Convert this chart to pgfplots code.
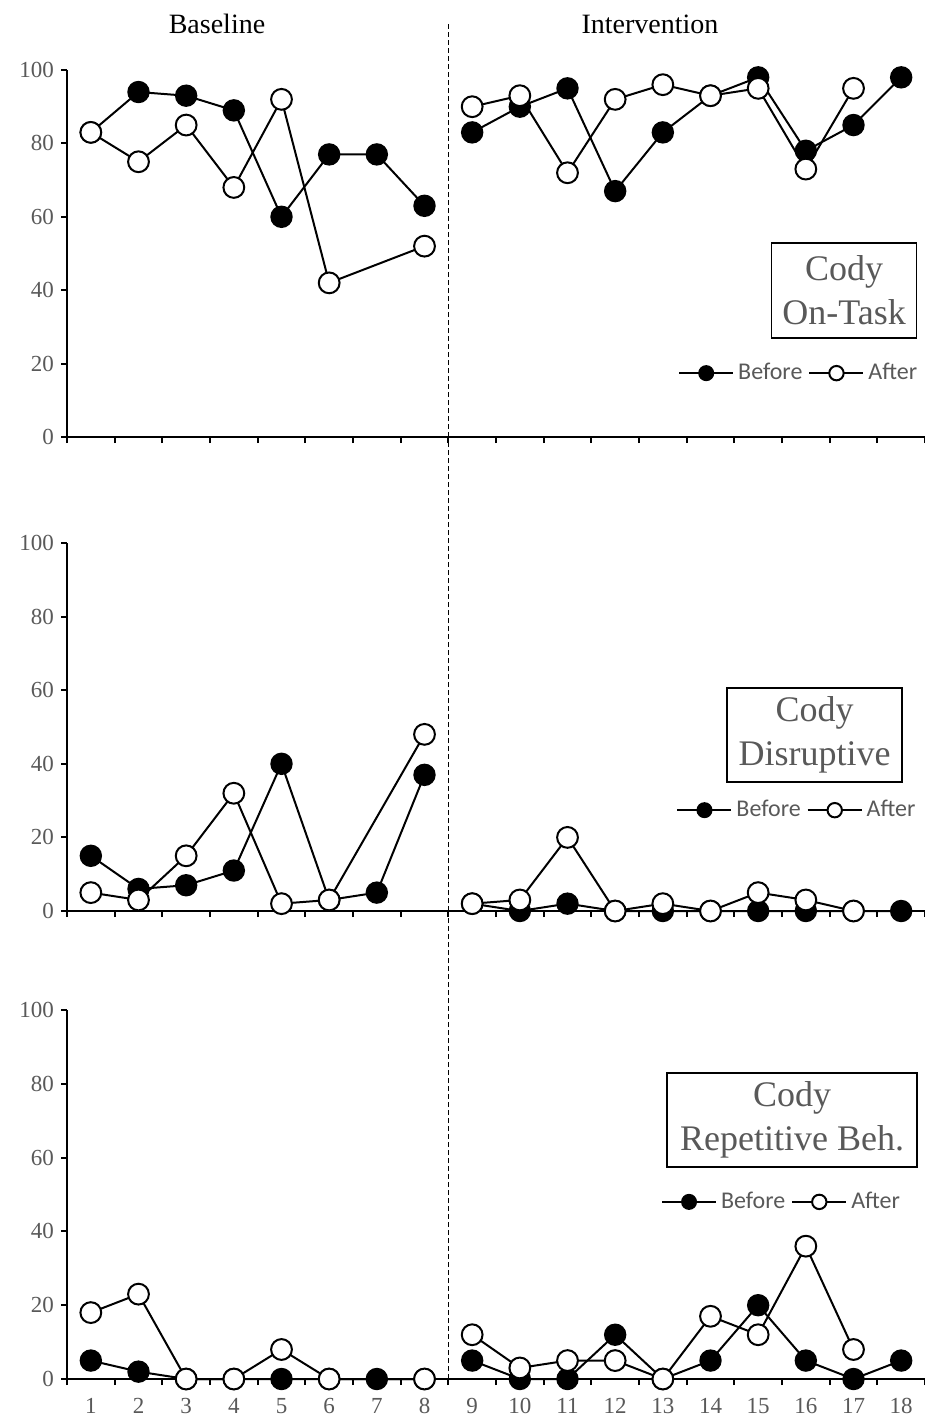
\documentclass[border=0pt]{standalone}
\usepackage{fontspec}
\setmainfont{Liberation Serif}
\newfontfamily\legfont{Carlito}
\usepackage{pgfplots}
\pgfplotsset{compat=1.18}
\definecolor{txtgray}{RGB}{89,89,89}
\pgfplotsset{
  panel/.style={
    scale only axis, width=429pt,
    xmin=0.5, xmax=18.5, ymin=0, ymax=100,
    axis x line=bottom, axis y line=left,
    axis line style={-, line width=1pt},
    tick align=outside,
    major tick length=3pt, minor tick length=3pt,
    tick style={black, line width=1pt},
    xtick={1,2,...,18},
    major x tick style={draw=none},
    minor xtick={0.5,1.5,...,18.5},
    ytick={0,20,...,100},
    yticklabel style={font=\fontsize{11.5}{13}\selectfont, text=txtgray},
    xticklabel style={font=\fontsize{11.5}{13}\selectfont, text=txtgray, anchor=base, yshift=-14pt},
    /pgf/number format/assume math mode=true,
    clip=false,
    unbounded coords=jump,
    legend columns=2,
    legend style={draw=none, fill=none, inner sep=0pt, font=\legfont\fontsize{12}{14}\selectfont, text=txtgray, anchor=east,
      /tikz/every even column/.append style={column sep=1pt}},
    legend image code/.code={\draw[mark repeat=2,mark phase=2,##1,mark size=3.6pt] plot coordinates {(0pt,0pt) (13.5pt,0pt) (27pt,0pt)};},
  },
  bef/.style={black, line width=1pt, mark=*, mark size=5.2pt, mark options={solid, fill=black, line width=0.8pt}},
  aft/.style={black, line width=1pt, mark=*, mark size=5.2pt, mark options={solid, fill=white, line width=1pt}},
}
\begin{document}
\begin{tikzpicture}
\useasboundingbox (0,0) rectangle (462.5pt,-709pt);
\node[anchor=base, font=\fontsize{14}{16}\selectfont] at (108.5pt,-17pt) {Baseline};
\node[anchor=base, font=\fontsize{14}{16}\selectfont] at (325pt,-17pt) {Intervention};

% Panel 1: On-Task
\begin{axis}[panel, at={(33.5pt,-218.5pt)}, anchor=south west, height=183.5pt,
  xticklabels={}, legend style={at={(0.996,0.174)}}]
\addplot[bef] coordinates {(1,83) (2,94) (3,93) (4,89) (5,60) (6,77) (7,77) (8,63) (8.5,nan)
  (9,83) (10,90) (11,95) (12,67) (13,83) (14,93) (15,98) (16,78) (17,85) (18,98)};
\addplot[aft] coordinates {(1,83) (2,75) (3,85) (4,68) (5,92) (6,42) (8,52) (8.5,nan)
  (9,90) (10,93) (11,72) (12,92) (13,96) (14,93) (15,95) (16,73) (17,95)};
\legend{Before,After}
\draw[line width=0.5pt, dash pattern=on 2.5pt off 1.5pt] (axis cs:8.5,0) -- (axis cs:8.5,113);
\end{axis}
\node[draw, line width=0.75pt, text=txtgray, align=center, minimum width=72.5pt, minimum height=47.5pt, inner sep=0pt,
  font=\fontsize{18}{22}\selectfont] at (422pt,-145.25pt) {Cody\\On-Task};

% Panel 2: Disruptive
\begin{axis}[panel, at={(33.5pt,-455.5pt)}, anchor=south west, height=184pt,
  xticklabels={}, legend style={at={(0.994,0.274)}}]
\addplot[bef] coordinates {(1,15) (2,6) (3,7) (4,11) (5,40) (6,3) (7,5) (8,37) (8.5,nan)
  (9,2) (10,0) (11,2) (12,0) (13,0) (14,0) (15,0) (16,0) (17,0) (18,0)};
\addplot[aft] coordinates {(1,5) (2,3) (3,15) (4,32) (5,2) (6,3) (8,48) (8.5,nan)
  (9,2) (10,3) (11,20) (12,0) (13,2) (14,0) (15,5) (16,3) (17,0)};
\legend{Before,After}
\draw[line width=0.5pt, dash pattern=on 2.5pt off 1.5pt] (axis cs:8.5,0) -- (axis cs:8.5,129);
\end{axis}
\node[draw, line width=0.75pt, text=txtgray, align=center, minimum width=87.5pt, minimum height=47pt, inner sep=0pt,
  font=\fontsize{18}{22}\selectfont] at (407.25pt,-367.5pt) {Cody\\Disruptive};

% Panel 3: Repetitive
\begin{axis}[panel, at={(33.5pt,-689.5pt)}, anchor=south west, height=184.5pt,
  legend style={at={(0.976,0.48)}}]
\addplot[bef] coordinates {(1,5) (2,2) (3,0) (4,0) (5,0) (6,0) (7,0) (8,0) (8.5,nan)
  (9,5) (10,0) (11,0) (12,12) (13,0) (14,5) (15,20) (16,5) (17,0) (18,5)};
\addplot[aft] coordinates {(1,18) (2,23) (3,0) (4,0) (5,8) (6,0) (8,0) (8.5,nan)
  (9,12) (10,3) (11,5) (12,5) (13,0) (14,17) (15,12) (16,36) (17,8)};
\legend{Before,After}
\draw[line width=0.5pt, dash pattern=on 2.5pt off 1.5pt] (axis cs:8.5,0) -- (axis cs:8.5,127);
\end{axis}
\node[draw, line width=0.75pt, text=txtgray, align=center, minimum width=125pt, minimum height=47pt, inner sep=0pt,
  font=\fontsize{18}{22}\selectfont] at (396pt,-560pt) {Cody\\Repetitive Beh.};
\end{tikzpicture}
\end{document}
